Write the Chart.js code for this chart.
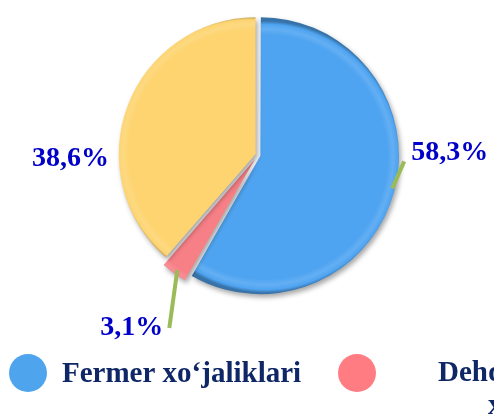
<!DOCTYPE html>
<html>
<head>
<meta charset="utf-8">
<script src="https://cdn.jsdelivr.net/npm/chart.js@4.4.0/dist/chart.umd.min.js"></script>
<style>
    body { margin: 0; background: #fff; overflow: hidden; }
    canvas { display: block; }
</style>
</head>
<body>
<canvas id="pieChart" width="494" height="418"></canvas>
<script>
// data
var categories = ["Fermer xo‘jaliklari", "Dehqon xo‘jaliklari", "Qishloq xo‘jaligi korxonalari"];
var shares = [58.3, 3.1, 38.6];
var sliceColors = ["#4fa4f1", "#f77f86", "#fdd470"];
var legendColors = ["#4ea5ee", "#ff7d82", "#fdd470"];
var sliceOffsets = [10, 20, 10]; // chart.js moves a slice by offset / 2

var RADIUS = 136;

function shade(hex, amt) {
    var n = parseInt(hex.slice(1), 16);
    var r = (n >> 16) & 255, g = (n >> 8) & 255, b = n & 255;
    function f(c) {
        return Math.max(0, Math.min(255, Math.round(amt < 0 ? c * (1 + amt) : c + (255 - c) * amt)));
    }
    return "rgb(" + f(r) + "," + f(g) + "," + f(b) + ")";
}

// bevel-like radial gradient for each slice
function sliceFill(context) {
    var chart = context.chart;
    var ca = chart.chartArea;
    var i = context.dataIndex;
    var base = sliceColors[i];
    if (!ca) return base;
    var total = shares.reduce((s, v) => s + v, 0);
    var before = 0;
    for (var k = 0; k < i; k++) before += shares[k];
    var mid = ((before + shares[i] / 2) / total) * Math.PI * 2 - Math.PI / 2;
    var cx = (ca.left + ca.right) / 2 + Math.cos(mid) * sliceOffsets[i] / 2;
    var cy = (ca.top + ca.bottom) / 2 + Math.sin(mid) * sliceOffsets[i] / 2;
    var g = chart.ctx.createRadialGradient(cx, cy, 0, cx, cy, RADIUS);
    g.addColorStop(0, base);
    g.addColorStop(0.9, base);
    g.addColorStop(0.94, shade(base, 0.12));
    g.addColorStop(0.975, base);
    g.addColorStop(1, shade(base, -0.3));
    return g;
}

var shadowPlugin = {
    id: "shadow",
    beforeDatasetsDraw: function (chart) {
        var ctx = chart.ctx;
        ctx.save();
        ctx.shadowColor = "rgba(0,0,0,0.35)";
        ctx.shadowBlur = 5;
        ctx.shadowOffsetX = 2;
        ctx.shadowOffsetY = 3;
    },
    afterDatasetsDraw: function (chart) {
        chart.ctx.restore();
    },
};

// percent labels with leader lines
var labelPlugin = {
    id: "pctLabels",
    afterDraw: function (chart) {
        var ctx = chart.ctx;
        var arcs = chart.getDatasetMeta(0).data;
        ctx.save();
        ctx.font = "bold 28px 'Liberation Serif', 'Times New Roman', serif";
        ctx.fillStyle = "#0000c8";
        ctx.textBaseline = "alphabetic";
        arcs.forEach(function (arc, i) {
            var p = arc.getProps(["x", "y", "startAngle", "endAngle", "outerRadius"], true);
            var mid = (p.startAngle + p.endAngle) / 2;
            var off = sliceOffsets[i] / 2;
            var ex = p.x + Math.cos(mid) * (p.outerRadius + off);
            var ey = p.y + Math.sin(mid) * (p.outerRadius + off);
            var text = shares[i].toFixed(1).replace(".", ",") + "%";
            ctx.strokeStyle = "#9bbb59";
            ctx.lineWidth = 4;
            if (i === 0) {
                ctx.beginPath();
                ctx.moveTo(ex - 2, ey - 3);
                ctx.lineTo(ex + 10, ey - 30);
                ctx.stroke();
                ctx.textAlign = "left";
                ctx.fillText(text, ex + 17, ey - 31);
            } else if (i === 1) {
                ctx.beginPath();
                ctx.moveTo(ex + 4, ey - 4);
                ctx.lineTo(ex - 4, ey + 54);
                ctx.stroke();
                ctx.textAlign = "right";
                ctx.fillText(text, ex - 10, ey + 61);
            } else {
                ctx.textAlign = "right";
                ctx.fillText(text, ex - 17, ey + 60);
            }
        });
        ctx.restore();
    },
};

// legend at the bottom (runs off the right edge like the original)
var legendPlugin = {
    id: "bottomLegend",
    afterDraw: function (chart) {
        var ctx = chart.ctx;
        var itemX = [28, 357, 700];
        var y = 373;
        ctx.save();
        ctx.font = "bold 29px 'Liberation Serif', 'Times New Roman', serif";
        ctx.textBaseline = "alphabetic";
        categories.forEach(function (name, i) {
            ctx.fillStyle = legendColors[i];
            ctx.beginPath();
            ctx.arc(itemX[i], y, 19, 0, Math.PI * 2);
            ctx.fill();
            ctx.fillStyle = "#0f2767";
            ctx.textAlign = "left";
            if (i === 0) {
                ctx.fillText(name, itemX[i] + 34, y + 9);
            } else {
                var words = name.split(" ");
                ctx.fillText(words[0], itemX[i] + 81, y + 8);
                ctx.fillText(words.slice(1).join(" "), itemX[i] + 131, y + 41);
            }
        });
        ctx.restore();
    },
};

var pieChartCanvas = document.getElementById("pieChart").getContext("2d");

new Chart(pieChartCanvas, {
    type: "pie",
    data: {
        labels: categories,
        datasets: [
            {
                data: shares,
                backgroundColor: sliceFill,
                borderWidth: 0,
                offset: sliceOffsets,
                radius: RADIUS,
            },
        ],
    },
    options: {
        responsive: false,
        animation: false,
        layout: {
            padding: { left: 118, right: 96, top: 15, bottom: 123 },
        },
        plugins: {
            legend: { display: false },
            tooltip: { enabled: false },
        },
    },
    plugins: [shadowPlugin, labelPlugin, legendPlugin],
});
</script>
</body>
</html>
